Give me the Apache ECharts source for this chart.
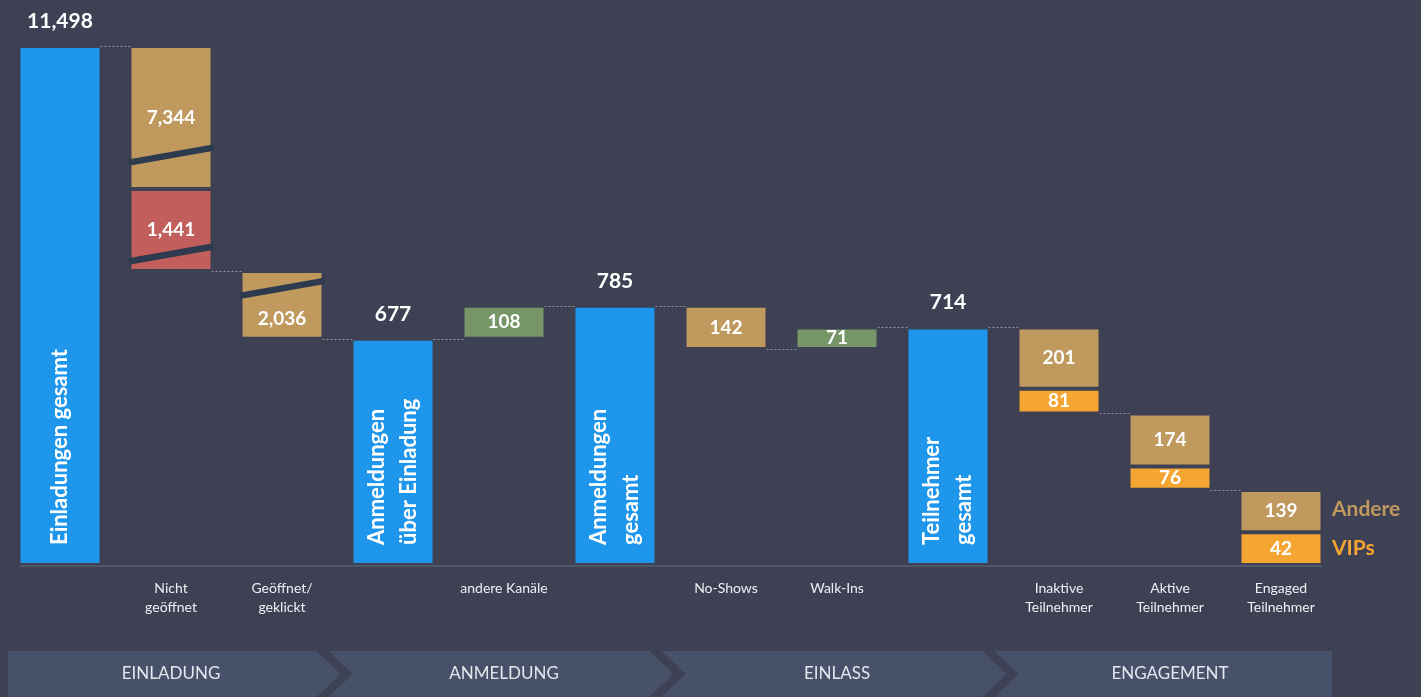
<!DOCTYPE html>
<html>
<head>
<meta charset="utf-8">
<script src="https://cdn.jsdelivr.net/npm/echarts@6.0.0/dist/echarts.min.js"></script>
<style>
html,body{margin:0;padding:0;background:#3d4153;}
#chart{width:1421px;height:697px;}
</style>
</head>
<body>
<div id="chart"></div>
<script>
// ---------- data ----------
const categories = ['Einladungen gesamt', 'Nicht geöffnet', 'Geöffnet/geklickt', 'Anmeldungen über Einladung', 'andere Kanäle', 'Anmeldungen gesamt', 'No-Shows', 'Walk-Ins', 'Teilnehmer gesamt', 'Inaktive Teilnehmer', 'Aktive Teilnehmer', 'Engaged Teilnehmer'];
const axisLabels = ['', 'Nicht\ngeöffnet', 'Geöffnet/\ngeklickt', '', 'andere Kanäle', '', 'No-Shows', 'Walk-Ins', '', 'Inaktive\nTeilnehmer', 'Aktive\nTeilnehmer', 'Engaged\nTeilnehmer'];
const barKinds = ['total', 'down', 'down', 'total', 'up', 'total', 'down', 'up', 'total', 'down', 'down', 'end'];
const totalValues = [11498, null, null, 677, null, 785, null, null, 714, null, null, null];
const totalLabels = ['Einladungen gesamt', '', '', 'Anmeldungen\nüber Einladung', '', 'Anmeldungen\ngesamt', '', '', 'Teilnehmer\ngesamt', '', '', ''];
const redValues = [null, 1441, null, null, null, null, null, null, null, null, null, null];
const lossValues = [null, 7344, 2036, null, null, null, 142, null, null, null, null, null];
const gainValues = [null, null, null, null, 108, null, null, 71, null, null, null, null];
const vipValues = [null, null, null, null, null, null, null, null, null, 81, 76, 42];
const andereValues = [null, null, null, null, null, null, null, null, null, 201, 174, 139];
// axis breaks (the first one only lifts the small blocks off the baseline, like the infographic)
const axisBreaks = [
  { start: 0, end: 1, gap: 66 },
  { start: 830, end: 2668, gap: 24 },
  { start: 2757, end: 3953, gap: 24 },
  { start: 4253, end: 11152, gap: 24 }
];
const phaseNames = ['EINLADUNG', 'ANMELDUNG', 'EINLASS', 'ENGAGEMENT'];
const phaseFirst = [0, 3, 6, 9];
const phaseLast = [2, 5, 8, 11];

// ---------- style ----------
const C = {
  bg: '#3d4153', blue: '#1e96eb', tan: '#c0995f', red: '#c25e5b', green: '#769667',
  orange: '#f4a532', slash: '#2e3a4e', ribbon: '#47526a', dots: '#8a8fa1', base: '#596074'
};
const FONT = 'Lato';
const BAR_W = 83;
const lossLabelPos = { 2: { position: 'insideBottom', distance: 10 } };
const fmt = v => Number(v).toLocaleString('en-US');

// ---------- derived waterfall geometry (from data) ----------
const downLists = [redValues, vipValues, lossValues, andereValues];
const helperValues = [];
const levels = [];
let level = 0;
categories.forEach((c, i) => {
  const kind = barKinds[i];
  const down = downLists.reduce((s, a) => s + (a[i] || 0), 0);
  if (kind === 'total') { helperValues.push(null); level = totalValues[i]; }
  else if (kind === 'down') { level -= down; helperValues.push(level); }
  else if (kind === 'up') { helperValues.push(level); level += gainValues[i]; }
  else { helperValues.push(0); level = down; }
  levels.push(level);
});
// slashes where a (non-total) segment spans an axis break
const stackOrder = [redValues, vipValues, gainValues, lossValues, andereValues];
const slashData = [];
categories.forEach((c, i) => {
  if (barKinds[i] === 'total') return;
  let b = helperValues[i] || 0;
  stackOrder.forEach(arr => {
    const v = arr[i];
    if (v == null) return;
    axisBreaks.forEach(br => {
      if (b < br.start && b + v > br.end) slashData.push([i, (br.start + br.end) / 2]);
    });
    b += v;
  });
});
const connectorData = levels.slice(0, -1).map((l, i) => [i, l]);
const totalTopData = totalValues.map((v, i) => v == null ? null : [i, v]).filter(Boolean);
const phaseData = phaseNames.map((n, i) => [phaseFirst[i], phaseLast[i]]);

const barStyle = color => ({ color, borderColor: C.bg, borderWidth: 2 });
const insideLabel = {
  show: true, position: 'inside', color: '#ffffff', fontFamily: FONT, fontWeight: 'bold', fontSize: 19,
  formatter: p => fmt(p.value)
};
const mkBar = (name, data, color, label) => ({
  name, type: 'bar', stack: 'wf', barWidth: BAR_W, data,
  itemStyle: barStyle(color), label: label || insideLabel,
  emphasis: { disabled: true }, silent: true
});

const chart = echarts.init(document.getElementById('chart'), null, { renderer: 'canvas' });
chart.setOption({
  backgroundColor: C.bg,
  animation: false,
  grid: { left: 4.5, right: 84.5, top: 46, bottom: 132, outerBoundsMode: 'none' },
  legend: {
    data: [
      { name: 'Andere', textStyle: { color: C.tan } },
      { name: 'VIPs', textStyle: { color: C.orange } }
    ],
    orient: 'vertical', left: 1326, top: 497, padding: 0, itemWidth: 0, itemHeight: 0, itemGap: 15,
    selectedMode: false, icon: 'rect',
    textStyle: { fontFamily: FONT, fontWeight: 'bold', fontSize: 21, lineHeight: 24 }
  },
  xAxis: {
    type: 'category', data: axisLabels,
    axisLine: { show: false }, axisTick: { show: false },
    axisLabel: { interval: 0, color: '#eef0f4', fontFamily: FONT, fontSize: 14, lineHeight: 19, margin: 14 }
  },
  yAxis: {
    type: 'value', min: 0, max: 11498,
    breaks: axisBreaks,
    breakArea: { show: false, itemStyle: { opacity: 0 }, zigzagAmplitude: 0 },
    axisLine: { show: false }, axisTick: { show: false }, axisLabel: { show: false }, splitLine: { show: false }
  },
  series: [
    {
      name: 'baseline', type: 'custom', silent: true, clip: false, z: 1,
      data: [[0, categories.length - 1]],
      renderItem: (params, api) => {
        const p0 = api.coord([0, 0]);
        const p1 = api.coord([api.value(1), 0]);
        return { type: 'line', shape: { x1: p0[0] - BAR_W / 2 + 1, y1: p0[1] + 1, x2: p1[0] + BAR_W / 2 - 1, y2: p0[1] + 1 },
          style: { stroke: C.base, lineWidth: 1.5 } };
      }
    },
    { name: 'helper', type: 'bar', stack: 'wf', barWidth: BAR_W, data: helperValues,
      itemStyle: { color: 'transparent', borderWidth: 0 }, label: { show: false }, silent: true, emphasis: { disabled: true } },
    mkBar('Gesamt', totalValues, C.blue, {
      show: true, position: 'insideBottom', rotate: 90, align: 'left', verticalAlign: 'middle', distance: 20,
      color: '#ffffff', fontFamily: FONT, fontWeight: 'bold', fontSize: 22, lineHeight: 32,
      formatter: p => totalLabels[p.dataIndex]
    }),
    mkBar('Abgang (rot)', redValues, C.red),
    mkBar('VIPs', vipValues, C.orange),
    mkBar('Zugang', gainValues, C.green),
    mkBar('Abgang', lossValues.map((v, i) => lossLabelPos[i] && v != null ? { value: v, label: lossLabelPos[i] } : v), C.tan),
    mkBar('Andere', andereValues, C.tan),
    {
      name: 'slashes', type: 'custom', silent: true, clip: false, z: 5, data: slashData,
      renderItem: (params, api) => {
        const p = api.coord([api.value(0), api.value(1)]);
        const h = BAR_W / 2 + 1;
        return { type: 'line', shape: { x1: p[0] - h, y1: p[1] + 7.5, x2: p[0] + h, y2: p[1] - 7.5 },
          style: { stroke: C.slash, lineWidth: 6.5 } };
      }
    },
    {
      name: 'connectors', type: 'custom', silent: true, clip: false, z: 4, data: connectorData,
      renderItem: (params, api) => {
        const i = api.value(0), l = api.value(1);
        const p0 = api.coord([i, l]);
        const p1 = api.coord([i + 1, l]);
        const y = Math.round(p0[1]) + 0.5;
        return { type: 'line', shape: { x1: p0[0] + BAR_W / 2 - 1, y1: y, x2: p1[0] - BAR_W / 2 + 1, y2: y },
          style: { stroke: C.dots, lineWidth: 1, lineDash: [2, 2] } };
      }
    },
    {
      name: 'totalTop', type: 'custom', silent: true, clip: false, z: 5, data: totalTopData,
      renderItem: (params, api) => {
        const p = api.coord([api.value(0), api.value(1)]);
        return { type: 'text', x: p[0], y: p[1] - 25,
          style: { text: fmt(api.value(1)), fill: '#ffffff', font: 'bold 21px ' + FONT, align: 'center', verticalAlign: 'middle' } };
      }
    },
    {
      name: 'phases', type: 'custom', silent: true, clip: false, z: 1, data: phaseData,
      renderItem: (params, api) => {
        const s = api.value(0), e = api.value(1);
        const band = api.size([1, 0])[0];
        const b = api.coord([s, 0]);
        const x0 = b[0] - band / 2;
        const x1 = api.coord([e, 0])[0] + band / 2;
        const top = b[1] + 86, h = 46, mid = top + h / 2, bot = top + h;
        const first = params.dataIndex === 0;
        const last = params.dataIndex === phaseNames.length - 1;
        const pts = [];
        pts.push(first ? [x0 + 3.5, top] : [x0 - 9, top]);
        if (last) { pts.push([x1 - 4.5, top], [x1 - 4.5, bot]); }
        else { pts.push([x1 - 21, top], [x1 + 3, mid], [x1 - 21, bot]); }
        if (first) { pts.push([x0 + 3.5, bot]); }
        else { pts.push([x0 - 9, bot], [x0 + 15, mid]); }
        return {
          type: 'group', children: [
            { type: 'polygon', shape: { points: pts }, style: { fill: C.ribbon } },
            { type: 'text', x: (x0 + x1) / 2, y: mid,
              style: { text: phaseNames[params.dataIndex], fill: '#e3e6ed', font: '17px ' + FONT, align: 'center', verticalAlign: 'middle' } }
          ]
        };
      }
    }
  ]
});
</script>
</body>
</html>
